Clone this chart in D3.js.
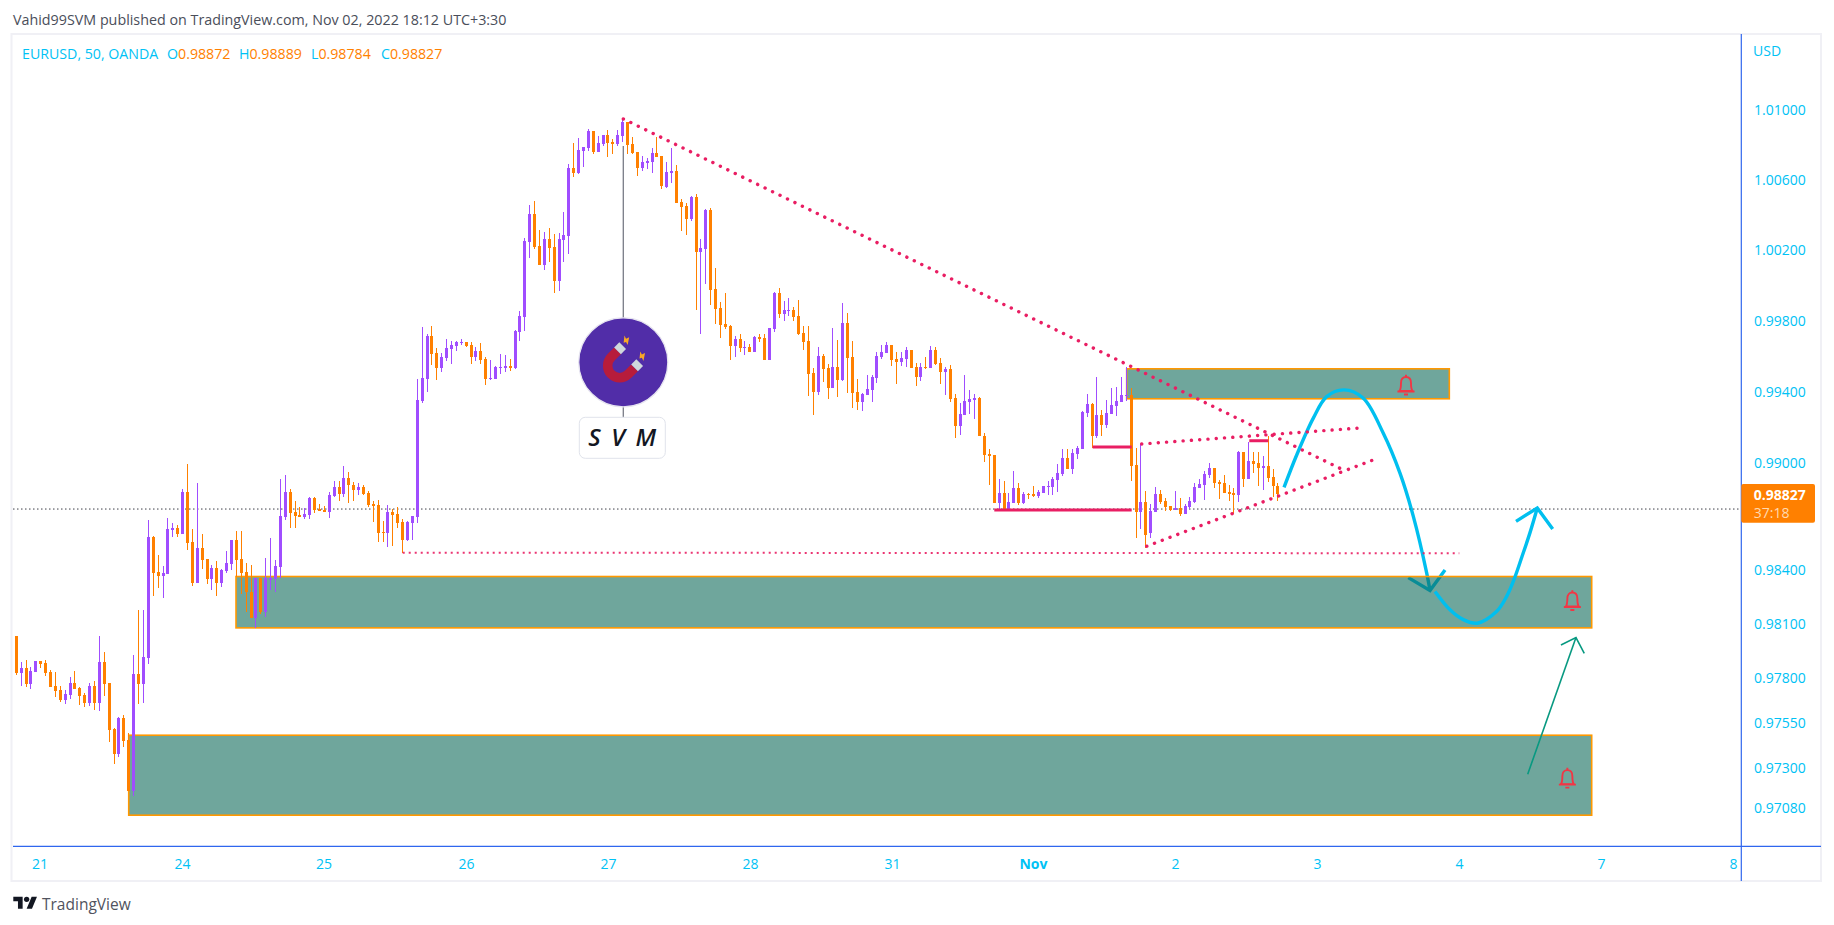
<!DOCTYPE html>
<html>
<head>
<meta charset="utf-8">
<title>EURUSD, 50, OANDA</title>
<script src="https://cdn.jsdelivr.net/npm/d3@7"></script>
<style>
  html, body { margin: 0; padding: 0; background: #fff; overflow: hidden; }
  text { font-family: "Open Sans", sans-serif; }
  .axis path, .axis line { display: none; }
  .axis text { font-family: "Open Sans", sans-serif; font-size: 14px; fill: #00c2f5; }
</style>
</head>
<body>
<div id="chart"></div>
<script>
// candles, one entry per 50 minute bar
var opens = [
  0.98031,0.97828,0.97854,0.97765,0.97832,0.97893,0.97881,0.97832,0.97754,0.97732,
  0.97677,0.97704,0.97771,0.97743,0.97704,0.97660,0.97754,0.97660,0.97887,0.97771,
  0.97516,0.97378,0.97577,0.97455,0.97178,0.97821,0.97765,0.97909,0.98585,0.98391,
  0.98369,0.98380,0.98624,0.98635,0.98601,0.98834,0.98557,0.98330,0.98524,0.98463,
  0.98352,0.98413,0.98330,0.98397,0.98435,0.98568,0.98463,0.98391,0.98280,0.98131,
  0.98358,0.98169,0.98347,0.98352,0.98419,0.98696,0.98834,0.98723,0.98707,0.98696,
  0.98707,0.98801,0.98740,0.98734,0.98723,0.98812,0.98867,0.98823,0.98917,0.98878,
  0.98845,0.98862,0.98828,0.98768,0.98762,0.98612,0.98607,0.98723,0.98712,0.98668,
  0.98568,0.98662,0.98696,0.99346,0.99471,0.99715,0.99618,0.99533,0.99590,0.99641,
  0.99658,0.99675,0.99681,0.99664,0.99596,0.99630,0.99584,0.99471,0.99471,0.99533,
  0.99533,0.99545,0.99533,0.99737,0.99823,1.00249,1.00409,1.00227,1.00118,1.00266,
  1.00221,1.00027,1.00261,1.00283,1.00670,1.00642,1.00767,1.00784,1.00881,1.00761,
  1.00807,1.00858,1.00818,1.00807,1.00852,1.00932,1.00807,1.00761,1.00670,1.00699,
  1.00704,1.00756,1.00738,1.00562,1.00642,1.00653,1.00477,1.00454,1.00380,1.00505,
  1.00192,1.00209,1.00431,0.99982,0.99874,0.99783,0.99772,0.99658,0.99698,0.99646,
  0.99652,0.99624,0.99709,0.99703,0.99578,0.99754,0.99959,0.99840,0.99857,0.99863,
  0.99828,0.99732,0.99686,0.99505,0.99397,0.99602,0.99534,0.99420,0.99539,0.99466,
  0.99789,0.99596,0.99397,0.99341,0.99380,0.99409,0.99477,0.99596,0.99619,0.99664,
  0.99585,0.99568,0.99585,0.99636,0.99539,0.99483,0.99539,0.99534,0.99636,0.99562,
  0.99511,0.99528,0.99363,0.99205,0.99267,0.99341,0.99352,0.99363,0.99153,0.99051,
  0.99046,0.98773,0.98830,0.98739,0.98773,0.98859,0.98773,0.98824,0.98824,0.98813,
  0.98830,0.98864,0.98864,0.98904,0.98938,0.99029,0.98966,0.99051,0.99080,0.99278,
  0.99329,0.99148,0.99267,0.99210,0.99273,0.99318,0.99341,0.99375,0.99380,0.98989,
  0.98722,0.98779,0.98606,0.98723,0.98824,0.98785,0.98757,0.98734,0.98746,0.98712,
  0.98751,0.98779,0.98857,0.98874,0.98930,0.98969,0.98891,0.98885,0.98835,0.98829,
  0.98818,0.99058,0.98907,0.99013,0.98997,0.98969,0.98980,0.98919,0.98872];
var highs = [
  0.98031,0.97887,0.97898,0.97859,0.97893,0.97893,0.97898,0.97843,0.97832,0.97754,
  0.97732,0.97804,0.97837,0.97749,0.97715,0.97771,0.97782,0.98031,0.97942,0.97771,
  0.97522,0.97582,0.97593,0.97494,0.97926,0.98175,0.98175,0.98679,0.98590,0.98485,
  0.98424,0.98690,0.98662,0.98651,0.98851,0.98995,0.98629,0.98889,0.98601,0.98463,
  0.98430,0.98452,0.98408,0.98507,0.98568,0.98618,0.98618,0.98441,0.98430,0.98358,
  0.98358,0.98469,0.98579,0.98457,0.98912,0.98934,0.98851,0.98784,0.98751,0.98745,
  0.98806,0.98806,0.98768,0.98756,0.98834,0.98900,0.98900,0.98984,0.98950,0.98895,
  0.98889,0.98878,0.98840,0.98784,0.98790,0.98673,0.98762,0.98740,0.98751,0.98685,
  0.98673,0.98701,0.99471,0.99766,0.99726,0.99771,0.99647,0.99618,0.99698,0.99686,
  0.99686,0.99698,0.99681,0.99681,0.99652,0.99675,0.99596,0.99578,0.99545,0.99613,
  0.99607,0.99584,0.99749,0.99857,1.00272,1.00460,1.00483,1.00318,1.00306,1.00329,
  1.00295,1.00300,1.00420,1.00693,1.00812,1.00841,1.00790,1.00892,1.00881,1.00852,
  1.00858,1.00886,1.00835,1.00886,1.00949,1.00932,1.00847,1.00761,1.00738,1.00727,
  1.00784,1.00847,1.00738,1.00704,1.00784,1.00687,1.00494,1.00471,1.00511,1.00522,
  1.00266,1.00437,1.00443,1.00101,0.99908,0.99959,0.99777,0.99715,0.99726,0.99686,
  0.99669,0.99715,0.99726,0.99726,0.99760,0.99965,0.99988,0.99914,0.99931,0.99880,
  0.99919,0.99772,0.99772,0.99534,0.99653,0.99613,0.99556,0.99761,0.99692,0.99902,
  0.99846,0.99687,0.99471,0.99392,0.99494,0.99494,0.99624,0.99664,0.99681,0.99664,
  0.99624,0.99624,0.99653,0.99636,0.99562,0.99562,0.99596,0.99658,0.99653,0.99590,
  0.99539,0.99551,0.99386,0.99335,0.99494,0.99409,0.99386,0.99369,0.99165,0.99080,
  0.99046,0.98910,0.98898,0.98830,0.98955,0.98887,0.98836,0.98830,0.98870,0.98847,
  0.98870,0.98898,0.98921,0.98995,0.99080,0.99080,0.99080,0.99097,0.99290,0.99386,
  0.99335,0.99483,0.99295,0.99352,0.99420,0.99426,0.99483,0.99539,0.99420,0.99085,
  0.99108,0.98841,0.98768,0.98863,0.98846,0.98801,0.98757,0.98840,0.98801,0.98768,
  0.98807,0.98885,0.98907,0.98952,0.98997,0.98969,0.98902,0.98930,0.98874,0.98857,
  0.99064,0.99058,0.99119,0.99058,0.99058,0.99041,0.99153,0.98963,0.98889];
var lows = [
  0.97817,0.97754,0.97749,0.97737,0.97832,0.97854,0.97809,0.97749,0.97693,0.97665,
  0.97654,0.97682,0.97737,0.97649,0.97638,0.97643,0.97621,0.97616,0.97699,0.97444,
  0.97322,0.97361,0.97416,0.97178,0.97145,0.97654,0.97660,0.97876,0.98253,0.98302,
  0.98247,0.98380,0.98585,0.98585,0.98601,0.98513,0.98313,0.98330,0.98408,0.98325,
  0.98291,0.98258,0.98308,0.98385,0.98402,0.98363,0.98269,0.98169,0.98131,0.98075,
  0.98153,0.98136,0.98291,0.98275,0.98358,0.98679,0.98635,0.98635,0.98696,0.98685,
  0.98685,0.98718,0.98729,0.98723,0.98690,0.98806,0.98784,0.98806,0.98773,0.98784,
  0.98817,0.98817,0.98751,0.98668,0.98557,0.98557,0.98529,0.98535,0.98635,0.98496,
  0.98563,0.98568,0.98662,0.99335,0.99397,0.99550,0.99465,0.99510,0.99573,0.99556,
  0.99630,0.99664,0.99652,0.99556,0.99573,0.99556,0.99437,0.99465,0.99471,0.99499,
  0.99510,0.99516,0.99527,0.99686,0.99743,1.00158,1.00209,1.00118,1.00090,1.00136,
  0.99959,0.99971,1.00136,1.00181,1.00619,1.00636,1.00676,1.00767,1.00750,1.00761,
  1.00795,1.00733,1.00750,1.00795,1.00818,1.00750,1.00750,1.00625,1.00653,1.00665,
  1.00642,1.00733,1.00551,1.00556,1.00585,1.00471,1.00312,1.00289,1.00369,0.99863,
  0.99726,1.00010,0.99891,0.99783,0.99703,0.99754,0.99578,0.99595,0.99624,0.99607,
  0.99624,0.99624,0.99680,0.99578,0.99578,0.99737,0.99817,0.99800,0.99828,0.99800,
  0.99720,0.99635,0.99373,0.99267,0.99380,0.99454,0.99358,0.99420,0.99369,0.99460,
  0.99392,0.99307,0.99295,0.99290,0.99380,0.99341,0.99449,0.99585,0.99619,0.99545,
  0.99443,0.99545,0.99539,0.99534,0.99431,0.99460,0.99528,0.99534,0.99551,0.99443,
  0.99380,0.99341,0.99142,0.99159,0.99267,0.99273,0.99244,0.99148,0.99006,0.98876,
  0.98773,0.98728,0.98739,0.98728,0.98773,0.98762,0.98768,0.98796,0.98807,0.98802,
  0.98830,0.98819,0.98819,0.98836,0.98927,0.98966,0.98938,0.99023,0.99080,0.99256,
  0.99085,0.99142,0.99148,0.99193,0.99273,0.99261,0.99341,0.99346,0.98898,0.98581,
  0.98632,0.98524,0.98578,0.98723,0.98768,0.98729,0.98729,0.98734,0.98701,0.98712,
  0.98740,0.98773,0.98857,0.98790,0.98913,0.98857,0.98796,0.98829,0.98785,0.98712,
  0.98779,0.98863,0.98907,0.98941,0.98868,0.98846,0.98891,0.98807,0.98784];
var closes = [
  0.97828,0.97854,0.97765,0.97837,0.97893,0.97876,0.97826,0.97749,0.97726,0.97677,
  0.97710,0.97771,0.97737,0.97699,0.97660,0.97754,0.97660,0.97887,0.97765,0.97510,
  0.97378,0.97577,0.97450,0.97178,0.97821,0.97765,0.97915,0.98585,0.98385,0.98369,
  0.98385,0.98629,0.98635,0.98601,0.98834,0.98552,0.98330,0.98524,0.98457,0.98352,
  0.98413,0.98330,0.98402,0.98441,0.98568,0.98457,0.98385,0.98275,0.98131,0.98358,
  0.98169,0.98358,0.98358,0.98424,0.98701,0.98834,0.98718,0.98701,0.98696,0.98712,
  0.98801,0.98734,0.98729,0.98723,0.98817,0.98867,0.98823,0.98917,0.98873,0.98845,
  0.98862,0.98823,0.98762,0.98756,0.98607,0.98607,0.98723,0.98707,0.98662,0.98568,
  0.98668,0.98701,0.99352,0.99476,0.99715,0.99613,0.99533,0.99596,0.99647,0.99664,
  0.99681,0.99681,0.99658,0.99596,0.99630,0.99578,0.99471,0.99476,0.99539,0.99539,
  0.99545,0.99533,0.99743,0.99828,1.00255,1.00409,1.00221,1.00118,1.00266,1.00215,
  1.00027,1.00266,1.00289,1.00670,1.00642,1.00773,1.00790,1.00881,1.00761,1.00812,
  1.00858,1.00812,1.00807,1.00858,1.00932,1.00801,1.00756,1.00670,1.00704,1.00710,
  1.00756,1.00733,1.00568,1.00647,1.00653,1.00471,1.00448,1.00380,1.00505,1.00192,
  1.00215,1.00431,0.99976,0.99868,0.99777,0.99766,0.99658,0.99698,0.99646,0.99652,
  0.99624,0.99709,0.99698,0.99578,0.99760,0.99959,0.99840,0.99863,0.99863,0.99823,
  0.99726,0.99680,0.99499,0.99397,0.99602,0.99528,0.99420,0.99539,0.99466,0.99789,
  0.99590,0.99392,0.99341,0.99386,0.99414,0.99483,0.99602,0.99624,0.99664,0.99579,
  0.99568,0.99590,0.99636,0.99534,0.99483,0.99539,0.99534,0.99636,0.99556,0.99511,
  0.99528,0.99358,0.99205,0.99273,0.99346,0.99358,0.99363,0.99148,0.99046,0.99040,
  0.98773,0.98830,0.98739,0.98779,0.98859,0.98773,0.98824,0.98819,0.98813,0.98836,
  0.98870,0.98870,0.98910,0.98944,0.99029,0.98966,0.99057,0.99085,0.99284,0.99329,
  0.99148,0.99267,0.99210,0.99278,0.99324,0.99346,0.99380,0.99380,0.98983,0.98722,
  0.98779,0.98598,0.98729,0.98824,0.98779,0.98751,0.98734,0.98746,0.98712,0.98757,
  0.98785,0.98863,0.98879,0.98935,0.98969,0.98885,0.98879,0.98829,0.98824,0.98818,
  0.99058,0.98907,0.99013,0.98991,0.98969,0.98980,0.98913,0.98868,0.98827];

// axis labels
var priceTicks = [1.01, 1.006, 1.002, 0.998, 0.994, 0.99, 0.984, 0.981, 0.978, 0.9755, 0.973, 0.9708];
var dayBars = [4.74, 33.89, 62.82, 91.96, 121, 150.04, 179.08, 207.9, 236.95, 266, 295.03, 324.07, 351.06];
var dayLabels = ["21", "24", "25", "26", "27", "28", "31", "Nov", "2", "3", "4", "7", "8"];

// header legend
var legendNames = ["O", "H", "L", "C"];
var legendValues = ["0.98872", "0.98889", "0.98784", "0.98827"];

// drawings on the chart, in [bar, price]
var zones = [
  [[227.07, 0.99529], [293.05, 0.99360]],
  [[44.93, 0.98364], [322.17, 0.98078]],
  [[22.99, 0.97483], [322.17, 0.97042]]
];
var dottedLines = [
  [[124.13, 1.00949], [271.37, 0.98960]],
  [[230.14, 0.99106], [274.44, 0.99195]],
  [[231.17, 0.98533], [277.85, 0.99020]]
];
var supportLine = [[79.02, 0.98497], [295.09, 0.98494]];
var solidLines = [
  [[200, 0.98736], [228.1, 0.98736]],
  [[220.12, 0.99089], [228.1, 0.99089]],
  [[252.14, 0.99124], [256.03, 0.99124]]
];
var fallCurve = [[259.25, 0.98862], [261.84, 0.99044], [265.24, 0.99251], [267.97, 0.99372], [271.51, 0.99410],
  [275.46, 0.99363], [279.55, 0.99166], [282.96, 0.98942], [285.69, 0.98700], [288.43, 0.98383], [289.10, 0.98286]];
var fallHead = [[284.66, 0.98358], [289.10, 0.98286], [292.17, 0.98401]];
var riseCurve = [[290.12, 0.98281], [293.19, 0.98179], [295.91, 0.98124], [298.77, 0.98104], [302.75, 0.98170],
  [304.78, 0.98253], [306.27, 0.98346], [307.9, 0.98474], [309.55, 0.98609], [311.04, 0.98747]];
var riseHead = [[306.69, 0.98672], [311.04, 0.98747], [314.19, 0.98629]];
var greenArrow = [[309.08, 0.97268], [318.95, 0.98024]];
var greenHead = [[315.88, 0.97983], [318.95, 0.98024], [320.65, 0.97937]];
var bells = [[284.19, 0.99438], [318.21, 0.98230], [317.19, 0.97246]];
var lastLineLevel = 0.98741;
var markerBar = 124.13;

var width = 1834,
  height = 925,
  plotLeft = 13,
  plotRight = 1741.3,
  plotTop = 34,
  plotBottom = 846.3,
  frameRight = 1821,
  frameBottom = 881;

var upColor = "#a04dff",
  downColor = "#ff8000",
  textColor = "#00c2f5",
  pink = "#e91e63",
  blue = "#2f66ee",
  curveColor = "#00bfef";

var svg = d3.select("#chart")
  .append("svg")
  .attr("width", width)
  .attr("height", height)
  .style("display", "block");

var x = d3.scaleLinear().domain([0, 100]).range([16.3, 505.3]);
var y = d3.scaleLog().domain([1.01, 0.9708]).range([110, 808.3]);

var line = d3.line().x(function (d) { return x(d[0]); }).y(function (d) { return y(d[1]); });
var smooth = d3.line().curve(d3.curveCatmullRom).x(function (d) { return x(d[0]); }).y(function (d) { return y(d[1]); });

// top title
svg.append("text")
  .attr("x", 13)
  .attr("y", 24.5)
  .style("font-size", "14.3px")
  .style("fill", "#4a4e5a")
  .text("Vahid99SVM published on TradingView.com, Nov 02, 2022 18:12 UTC+3:30");

// frame
svg.append("rect")
  .attr("x", 11.5).attr("y", 34)
  .attr("width", frameRight - 11.5).attr("height", frameBottom - 34)
  .style("fill", "none").style("stroke", "#f0f0f5").style("stroke-width", 2);

var defs = svg.append("defs");
defs.append("clipPath").attr("id", "plot")
  .append("rect")
  .attr("x", plotLeft).attr("y", plotTop)
  .attr("width", plotRight - plotLeft).attr("height", plotBottom - plotTop);

var plot = svg.append("g").attr("clip-path", "url(#plot)");

function drawZone(d) {
  plot.append("rect")
    .attr("x", x(d[0][0]))
    .attr("y", y(d[0][1]))
    .attr("width", x(d[1][0]) - x(d[0][0]))
    .attr("height", y(d[1][1]) - y(d[0][1]))
    .style("fill", "rgba(15,107,90,0.6)")
    .style("stroke", "#ff9800")
    .style("stroke-width", 1.6);
}

// the curve goes over the top zone but under the middle one
drawZone(zones[0]);
drawZone(zones[2]);

plot.append("path").attr("d", smooth(fallCurve))
  .style("fill", "none").style("stroke", curveColor).style("stroke-width", 3.4);
plot.append("path").attr("d", line(fallHead))
  .style("fill", "none").style("stroke", curveColor).style("stroke-width", 3.4);

drawZone(zones[1]);

// last price line
plot.append("line")
  .attr("x1", plotLeft).attr("x2", plotRight)
  .attr("y1", y(lastLineLevel)).attr("y2", y(lastLineLevel))
  .style("stroke", "#3c3f48").style("stroke-width", 1).style("stroke-dasharray", "1.5 2.5");

// candles
var candles = plot.append("g").style("shape-rendering", "crispEdges");
opens.forEach(function (o, i) {
  var c = closes[i];
  var col = c >= o ? upColor : downColor;
  var cx = Math.floor(x(i)) + 0.5;
  var top = Math.round(y(Math.max(o, c)));
  var bot = Math.round(y(Math.min(o, c)));
  candles.append("rect")
    .attr("x", cx - 0.5).attr("width", 1)
    .attr("y", Math.round(y(highs[i])))
    .attr("height", Math.max(1, Math.round(y(lows[i])) - Math.round(y(highs[i]))))
    .style("fill", col);
  candles.append("rect")
    .attr("x", cx - 1.5).attr("width", 3)
    .attr("y", top)
    .attr("height", Math.max(1, bot - top))
    .style("fill", col);
});

// trend lines
dottedLines.forEach(function (d) {
  plot.append("path").attr("d", line(d))
    .style("fill", "none").style("stroke", pink).style("stroke-width", 3.4)
    .style("stroke-linecap", "round").style("stroke-dasharray", "0.1 8.2");
});
plot.append("path").attr("d", line(supportLine))
  .style("fill", "none").style("stroke", pink).style("stroke-width", 2)
  .style("stroke-dasharray", "2 4").style("opacity", 0.9);
solidLines.forEach(function (d) {
  plot.append("path").attr("d", line(d))
    .style("fill", "none").style("stroke", pink).style("stroke-width", 3);
});

plot.append("path").attr("d", smooth(riseCurve))
  .style("fill", "none").style("stroke", curveColor).style("stroke-width", 3.4);
plot.append("path").attr("d", line(riseHead))
  .style("fill", "none").style("stroke", curveColor).style("stroke-width", 3.4);

plot.append("path").attr("d", line(greenArrow))
  .style("fill", "none").style("stroke", "#089981").style("stroke-width", 1.6);
plot.append("path").attr("d", line(greenHead))
  .style("fill", "none").style("stroke", "#089981").style("stroke-width", 1.6);

// alert bells
bells.forEach(function (d) {
  var b = plot.append("g")
    .attr("transform", "translate(" + x(d[0]) + "," + y(d[1]) + ")")
    .style("fill", "none").style("stroke", "#f23645").style("stroke-width", 1.9);
  b.append("path").attr("d", "M-6.5 6C-5 4-5 2-5-2C-5-6-3-8 0-8C3-8 5-6 5-2C5 2 5 4 6.5 6Z");
  b.append("path").attr("d", "M-8.5 6.5H8.5M-2 9.5H2M0-10.3V-8");
});

// pin with the logo and the SVM label
var cx = x(markerBar);
plot.append("line")
  .attr("x1", cx).attr("x2", cx).attr("y1", 146).attr("y2", 420)
  .style("stroke", "#787b86").style("stroke-width", 1.3);
plot.append("circle")
  .attr("cx", cx).attr("cy", 362.3).attr("r", 44.5)
  .style("fill", "#512da8").style("stroke", "#e6e4f0").style("stroke-width", 1.2);

var magnet = plot.append("g")
  .attr("transform", "translate(" + (cx - 3.6) + ",365.7) rotate(-45) scale(1.12)");
magnet.append("path")
  .attr("d", "M8-15H0A15 15 0 0 0 0 15H8V6.5H0A6.5 6.5 0 0 1 0-6.5H8Z")
  .style("fill", "#b71c3c");
magnet.append("rect").attr("x", 8).attr("y", -15).attr("width", 6.5).attr("height", 8.5).style("fill", "#cfd8dc");
magnet.append("rect").attr("x", 8).attr("y", 6.5).attr("width", 6.5).attr("height", 8.5).style("fill", "#cfd8dc");
magnet.append("path").attr("d", "M17-12l5-4-1 3 3 1-6 4 1-3Z").style("fill", "#f9a825");
magnet.append("path").attr("d", "M17 8l5-4-1 3 3 1-6 4 1-3Z").style("fill", "#f9a825");

plot.append("rect")
  .attr("x", 579.3).attr("y", 417.3).attr("width", 86).attr("height", 41).attr("rx", 6)
  .style("fill", "#fff").style("stroke", "#e0e3eb").style("stroke-width", 1);
plot.append("text")
  .attr("x", cx).attr("y", 446)
  .attr("text-anchor", "middle")
  .style("font-size", "24px").style("font-style", "italic").style("font-weight", 600)
  .style("fill", "#131722").style("letter-spacing", "2.2px")
  .text("S V M");

// legend
svg.append("text")
  .attr("x", 22).attr("y", 58.5)
  .style("font-size", "14.2px").style("fill", textColor)
  .text("EURUSD, 50, OANDA");
var legendX = [167, 239, 311, 381];
legendNames.forEach(function (n, i) {
  var t = svg.append("text")
    .attr("x", legendX[i]).attr("y", 58.5)
    .style("font-size", "14.2px");
  t.append("tspan").style("fill", textColor).text(n);
  t.append("tspan").style("fill", downColor).text(legendValues[i]);
});

// axes
svg.append("g")
  .attr("class", "axis")
  .attr("transform", "translate(" + plotRight + ",0)")
  .call(d3.axisRight(y).tickValues(priceTicks).tickFormat(d3.format(".5f")).tickSize(0).tickPadding(12.7));
svg.append("g")
  .attr("class", "axis")
  .attr("transform", "translate(0," + plotBottom + ")")
  .call(d3.axisBottom(x).tickValues(dayBars).tickFormat(function (d, i) { return dayLabels[i]; }).tickSize(0).tickPadding(12.4))
  .selectAll("text")
  .style("font-weight", function (d, i) { return dayLabels[i] == "Nov" ? 700 : 400; });

svg.append("text")
  .attr("x", 1753).attr("y", 55.5)
  .style("font-size", "14px").style("fill", textColor)
  .text("USD");

svg.append("line")
  .attr("x1", plotRight).attr("x2", plotRight).attr("y1", plotTop).attr("y2", frameBottom)
  .style("stroke", blue).style("stroke-width", 1.2);
svg.append("line")
  .attr("x1", plotLeft).attr("x2", frameRight).attr("y1", plotBottom).attr("y2", plotBottom)
  .style("stroke", blue).style("stroke-width", 1.2);

// price tag
svg.append("rect")
  .attr("x", plotRight).attr("y", 484)
  .attr("width", 73.7).attr("height", 38.7).attr("rx", 2)
  .style("fill", downColor);
svg.append("text")
  .attr("x", 1753.7).attr("y", y(closes[closes.length - 1]) + 6)
  .style("font-size", "14px").style("font-weight", 700).style("fill", "#fff")
  .text(d3.format(".5f")(closes[closes.length - 1]));
svg.append("text")
  .attr("x", 1753.7).attr("y", 517.5)
  .style("font-size", "14px").style("fill", "#ffd9b0")
  .text("37:18");

// footer logo
var logo = svg.append("g")
  .attr("transform", "translate(13.3,894) scale(0.667)")
  .style("fill", "#131722");
logo.append("path").attr("d", "M14 22H7V11H0V4h14v18zM28 22h-8l7.5-18h8L28 22z");
logo.append("circle").attr("cx", 20).attr("cy", 8).attr("r", 4);
svg.append("text")
  .attr("x", 42).attr("y", 909.5)
  .style("font-size", "15.5px")
  .style("fill", "#50535e")
  .text("TradingView");
</script>
</body>
</html>
